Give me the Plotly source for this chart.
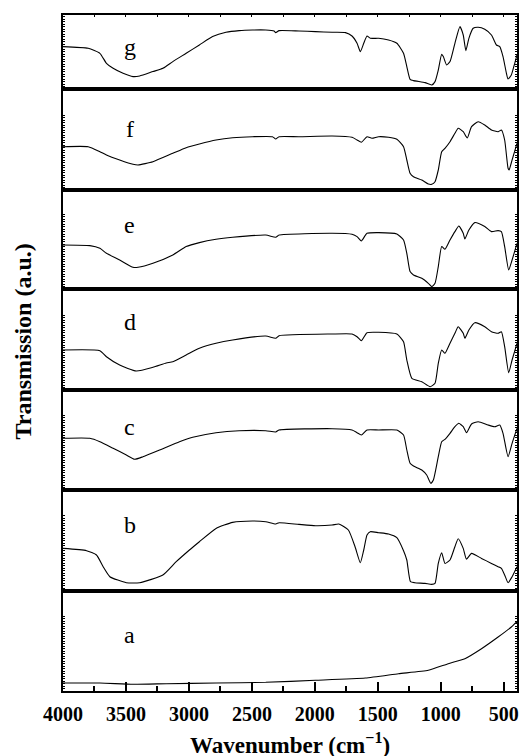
import plotly.graph_objects as go

# ---------------- data (wavenumber in cm-1, transmission in a.u.) ----------------
wn_g = [4000, 3800, 3707, 3655, 3602, 3523, 3444, 3391, 3286, 3207, 3128, 3022, 2917, 2812, 2706, 2601,
        2495, 2390, 2324, 2311, 2284, 2126, 1995, 1863, 1757, 1705, 1665, 1639, 1612, 1586, 1560, 1494,
        1415, 1349, 1296, 1270, 1244, 1217, 1125, 1072, 1046, 1020, 993, 980, 954, 927, 888, 848, 822,
        801, 777, 743, 703, 651, 598, 558, 532, 506, 479, 466, 440, 413, 395]
t_g = [42.7, 41, 36, 26, 21, 16, 12.7, 13.3, 17.7, 21, 27.7, 36, 44.3, 52.7, 57, 58.7,
       59.3, 59.3, 58.3, 56.7, 58.7, 58.3, 57.7, 57, 56.7, 53.3, 46, 37.7, 46, 53.3, 51, 51,
       49.3, 46, 36, 22.7, 10, 8.7, 6.7, 4.3, 7.7, 19.3, 35, 32.7, 24.3, 27.7, 46, 62.7, 54.3,
       38.7, 51, 61, 62, 60, 54.3, 44.3, 42.7, 32.7, 16, 10.3, 14.3, 26, 34.3]

wn_f = [4000, 3800, 3707, 3655, 3550, 3444, 3404, 3286, 3128, 3022, 2917, 2785, 2653, 2495, 2337, 2311,
        2284, 2126, 1863, 1705, 1665, 1631, 1586, 1547, 1494, 1415, 1349, 1296, 1270, 1244, 1217, 1151,
        1099, 1072, 1046, 1020, 993, 967, 927, 888, 862, 822, 790, 756, 703, 651, 598, 545, 519, 493,
        466, 458, 434, 395]
t_f = [43.3, 43.3, 38.3, 35, 30, 25.7, 25, 28.3, 36.7, 42.3, 46, 50, 52.3, 53.3, 53.3, 51,
       53.3, 53.3, 54, 52.7, 50, 47.7, 53.3, 51.7, 53.3, 52.7, 50.7, 43.3, 30, 16.7, 13.3, 10,
       6, 5.7, 8.3, 20, 38.3, 41.7, 48.3, 56.7, 61.7, 58.3, 52, 63.3, 68.3, 65, 60, 58.3, 60, 50,
       21.7, 20, 30, 46.7]

wn_e = [4000, 3787, 3707, 3655, 3550, 3444, 3404, 3286, 3128, 3022, 2917, 2785, 2653, 2390, 2311, 2284,
        1863, 1705, 1665, 1631, 1586, 1494, 1349, 1296, 1270, 1244, 1217, 1151, 1099, 1072, 1046, 1020,
        993, 967, 927, 888, 857, 822, 809, 777, 730, 651, 598, 545, 519, 493, 461, 434, 395]
t_e = [44.3, 43.7, 41, 36, 29.3, 22, 22, 26, 34.3, 42.7, 46.7, 50, 52, 54.3, 52, 54.3,
       56, 55, 52.7, 48.3, 56, 56.7, 55.3, 49.3, 36, 17.7, 14.3, 11, 6, 2.7, 6, 22.7,
       42.7, 40, 49.3, 57.7, 63.3, 56, 50.3, 59.3, 66.7, 62.7, 57.7, 58.7, 57.7, 42.7, 19.3, 29.3, 46]

wn_d = [4000, 3707, 3655, 3550, 3418, 3286, 3180, 3128, 3022, 2917, 2785, 2653, 2390, 2311, 2284, 1863,
        1705, 1665, 1631, 1586, 1494, 1349, 1296, 1270, 1230, 1151, 1085, 1046, 1020, 993, 967, 927,
        888, 862, 822, 809, 777, 730, 651, 598, 545, 519, 493, 461, 434, 395]
t_d = [40, 39.3, 33.3, 25, 19, 22.7, 27, 28.3, 35, 41.7, 46.7, 50, 54, 51.7, 54.3, 56,
       56, 53.3, 49.3, 57.3, 57.7, 56, 48.3, 30, 11.7, 8.3, 3.3, 6.7, 26.7, 40, 36.7, 46.7,
       56.7, 63.3, 56.7, 51.7, 60, 67.3, 63.3, 58.3, 56.7, 58.3, 43.3, 17.3, 30, 46.7]

wn_c = [4000, 3787, 3707, 3602, 3497, 3431, 3365, 3233, 3075, 2970, 2785, 2601, 2390, 2311, 2284, 1863,
        1705, 1665, 1631, 1586, 1494, 1349, 1296, 1270, 1244, 1217, 1151, 1112, 1080, 1059, 1020, 993,
        967, 927, 888, 857, 822, 796, 756, 703, 625, 572, 532, 506, 466, 434, 395]
t_c = [51.7, 51.7, 48.3, 41.7, 35, 30.7, 33.3, 40, 48.3, 52.7, 57.3, 59.3, 59.3, 58, 60, 61.3,
       60, 57.3, 55, 60, 60, 60, 55, 40, 26.7, 24, 20, 15, 6.7, 10, 33.3, 48.3,
       50.7, 56.7, 63.3, 66.7, 63.3, 57.3, 66, 68.3, 65, 63.3, 65, 56.7, 33.3, 46.7, 61.7]

wn_b = [4000, 3813, 3734, 3681, 3628, 3497, 3391, 3207, 3101, 2996, 2917, 2785, 2653, 2495, 2390, 2311,
        2284, 2126, 1995, 1863, 1810, 1734, 1681, 1639, 1612, 1586, 1560, 1494, 1415, 1349, 1296, 1270,
        1241, 1207, 1125, 1072, 1046, 1020, 993, 967, 927, 888, 862, 822, 796, 756, 677, 598, 545, 519,
        493, 466, 434, 395]
t_b = [42.3, 40, 35.7, 24, 14, 8, 8, 15.7, 29, 40.7, 49, 62.3, 68.3, 69.7, 69, 66.7,
       68, 66.3, 65, 65.7, 66.7, 60.7, 44, 28, 40.7, 55.7, 59, 58, 56.7, 53, 40, 30.7,
       9, 8, 7.3, 6.3, 7.3, 27.3, 38, 27.3, 30.7, 44, 52, 42.3, 31.5, 37.3, 32.3, 27.3, 24, 22.3,
       15.7, 8, 14, 24]

wn_a = [4000, 3707, 3444, 3180, 2785, 2390, 1995, 1599, 1336, 1099, 941, 809, 677, 545, 440, 413, 395]
t_a = [8, 8, 6.7, 7.3, 8, 8.7, 10.7, 13, 17.3, 20.7, 27.3, 32.3, 42.3, 54, 64, 67.3, 69]

panel_labels = ["g", "f", "e", "d", "c", "b", "a"]
panel_wn = [wn_g, wn_f, wn_e, wn_d, wn_c, wn_b, wn_a]
panel_t = [t_g, t_f, t_e, t_d, t_c, t_b, t_a]
label_wn = 3470
label_t = [42, 61, 64, 68, 63, 66, 56]

x_ticks = [4000, 3500, 3000, 2500, 2000, 1500, 1000, 500]
x_tick_text = ["4000", "3500", "3000", "2500", "2000", "1500", "1000", "500"]

# ---------------- layout ----------------
W, H = 524, 756
L, R, T, B = 63, 5, 15, 65
# panel boundaries in pixel rows (top to bottom)
bounds_px = [15, 89.3, 190, 289.3, 390, 490, 590.7, 691]
plot_h = H - T - B
FONT = "Liberation Serif"

fig = go.Figure()
layout = dict(
    width=W, height=H, margin=dict(l=L, r=R, t=T, b=B),
    paper_bgcolor="white", plot_bgcolor="white", showlegend=False,
    font=dict(family=FONT, color="black"),
)
annotations = []
n = len(panel_labels)
for i in range(n):
    idx = i + 1
    xa = "xaxis" if idx == 1 else f"xaxis{idx}"
    ya = "yaxis" if idx == 1 else f"yaxis{idx}"
    xr = "x" if idx == 1 else f"x{idx}"
    yr = "y" if idx == 1 else f"y{idx}"
    top_px, bot_px = bounds_px[i], bounds_px[i + 1]
    d0 = (H - B - bot_px) / plot_h
    d1 = (H - B - top_px) / plot_h
    height_px = bot_px - top_px
    last = (i == n - 1)

    fig.add_trace(go.Scatter(x=panel_wn[i], y=panel_t[i], mode="lines",
                             line=dict(color="black", width=1.1, shape="spline", smoothing=0.5),
                             xaxis=xr, yaxis=yr, hoverinfo="skip"))

    xdict = dict(domain=[0, 1], range=[4000, 395], anchor=yr, showgrid=False, zeroline=False,
                 showline=True, linecolor="black", linewidth=1.6)
    if last:
        xdict.update(mirror=True, ticks="inside", tickvals=x_ticks, ticktext=x_tick_text,
                     ticklen=9, tickwidth=2, tickcolor="black", showticklabels=True,
                     tickfont=dict(family=FONT, size=20, color="black", weight="bold"),
                     ticklabelstandoff=4,
                     minor=dict(ticks="inside", dtick=250, tick0=0, ticklen=5, tickwidth=1.5,
                                tickcolor="black"))
    else:
        xdict.update(mirror="ticks", ticks="inside", dtick=250, tick0=0, ticklen=2,
                     tickwidth=1, tickcolor="black", showticklabels=False, matches="x" + str(n))
    layout[xa] = xdict

    yvals = [v for v in [k * 2.5 for k in range(0, 32)] if v <= 77 and v <= height_px]
    layout[ya] = dict(domain=[d0, d1], range=[0, height_px], anchor=xr, showgrid=False,
                      zeroline=False, showline=True, linecolor="black", linewidth=1.6,
                      mirror="ticks", ticks="inside", tickvals=yvals, ticklen=2.5, tickwidth=1,
                      tickcolor="black", showticklabels=False, fixedrange=True)

    annotations.append(dict(x=label_wn, y=label_t[i], xref=xr, yref=yr, text=panel_labels[i],
                            showarrow=False, font=dict(family=FONT, size=24, color="black"),
                            xanchor="center", yanchor="middle"))

annotations.append(dict(x=0.5, y=0, xref="paper", yref="paper", yshift=-52,
                        text="<b>Wavenumber (cm<sup>−1</sup>)</b>", showarrow=False,
                        font=dict(family=FONT, size=23, color="black"),
                        xanchor="center", yanchor="middle"))
annotations.append(dict(x=0, y=(H - B - 342) / plot_h, xref="paper", yref="paper", xshift=-40.5,
                        text="<b>Transmission (a.u.)</b>", showarrow=False, textangle=-90,
                        font=dict(family=FONT, size=24, color="black"),
                        xanchor="center", yanchor="middle"))
layout["annotations"] = annotations
fig.update_layout(**layout)
fig.write_html("out.html", config={"displayModeBar": False},
               post_script="document.body.style.margin='0';document.body.style.overflow='hidden';")
